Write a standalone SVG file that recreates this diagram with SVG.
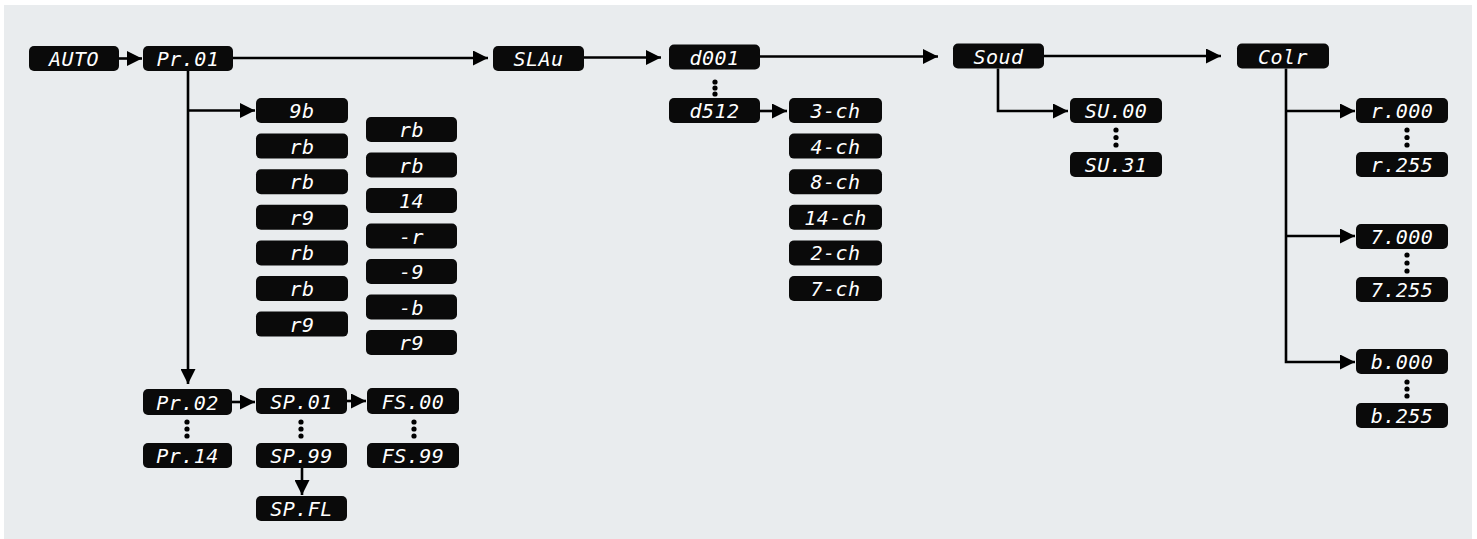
<svg xmlns="http://www.w3.org/2000/svg" width="1477" height="539" viewBox="0 0 1477 539">
<style>
.n rect{fill:#0a0a0a;rx:5px;ry:5px}
.n text{fill:#fff;font-family:"DejaVu Sans Mono","Liberation Mono",monospace;font-size:20px;font-style:oblique;text-anchor:middle;letter-spacing:0.5px}
.c path{fill:none;stroke:#000;stroke-width:2.6}
.c .a{marker-end:url(#ah)}
.d circle{fill:#000}
</style>
<defs>
<marker id="ah" markerUnits="userSpaceOnUse" markerWidth="15" markerHeight="15" refX="15" refY="7.5" orient="auto"><path d="M0,0 L15,7.5 L0,15 z" fill="#000"/></marker>
</defs>
<rect x="0" y="0" width="1477" height="539" fill="#fff"/>
<rect x="4" y="5" width="1468" height="534" fill="#e9ecee"/>

<g class="c" id="connectors">
<path class="a" d="M119,58.5 H142"/>
<path class="a" d="M233,58 H488"/>
<path class="a" d="M584,57.5 H661"/>
<path class="a" d="M760,56.5 H938"/>
<path class="a" d="M1044,56 H1221"/>
<path class="a" d="M188,71 V384"/>
<path class="a" d="M188,110.5 H255"/>
<path class="a" d="M232,402 H255"/>
<path class="a" d="M347,401 H366"/>
<path class="a" d="M302,468 V495"/>
<path class="a" d="M760,111 H787"/>
<path class="a" d="M998,68.5 V111 H1068"/>
<path class="a" d="M1286,68.5 V362 H1355"/>
<path class="a" d="M1286,111 H1355"/>
<path class="a" d="M1286,236 H1355"/>
</g>

<g class="d" id="ellipses">
<circle cx="715" cy="82" r="2.6"/><circle cx="715" cy="88" r="2.6"/><circle cx="715" cy="94" r="2.6"/>
<circle cx="187" cy="422" r="2.6"/><circle cx="187" cy="429" r="2.6"/><circle cx="187" cy="436" r="2.6"/>
<circle cx="301" cy="422" r="2.6"/><circle cx="301" cy="429" r="2.6"/><circle cx="301" cy="436" r="2.6"/>
<circle cx="414" cy="422" r="2.6"/><circle cx="414" cy="429" r="2.6"/><circle cx="414" cy="436" r="2.6"/>
<circle cx="1116" cy="130" r="2.6"/><circle cx="1116" cy="137.5" r="2.6"/><circle cx="1116" cy="145" r="2.6"/>
<circle cx="1407" cy="130" r="2.6"/><circle cx="1407" cy="137.5" r="2.6"/><circle cx="1407" cy="145" r="2.6"/>
<circle cx="1407" cy="255" r="2.6"/><circle cx="1407" cy="263" r="2.6"/><circle cx="1407" cy="271" r="2.6"/>
<circle cx="1407" cy="382" r="2.6"/><circle cx="1407" cy="389" r="2.6"/><circle cx="1407" cy="396" r="2.6"/>
</g>

<g class="n" id="auto"><rect x="29" y="46" width="90" height="25"/><text x="74" y="66">AUTO</text></g>
<g class="n" id="pr01"><rect x="143" y="46" width="90" height="25"/><text x="188" y="66">Pr.01</text></g>
<g class="n" id="slau"><rect x="493" y="46" width="91" height="25"/><text x="538.5" y="66">SLAu</text></g>
<g class="n" id="d001"><rect x="669" y="44.5" width="91" height="25"/><text x="714.5" y="64.5">d001</text></g>
<g class="n" id="soud"><rect x="953" y="43.5" width="91" height="25"/><text x="998.5" y="63.5">Soud</text></g>
<g class="n" id="colr"><rect x="1237" y="43.5" width="92" height="25"/><text x="1283" y="63.5">Colr</text></g>

<g class="n" id="l1"><rect x="256" y="98" width="92" height="25"/><text x="302" y="118">9b</text></g>
<g class="n" id="l2"><rect x="256" y="133.6" width="92" height="25"/><text x="302" y="153.6">rb</text></g>
<g class="n" id="l3"><rect x="256" y="169.2" width="92" height="25"/><text x="302" y="189.2">rb</text></g>
<g class="n" id="l4"><rect x="256" y="204.8" width="92" height="25"/><text x="302" y="224.8">r9</text></g>
<g class="n" id="l5"><rect x="256" y="240.4" width="92" height="25"/><text x="302" y="260.4">rb</text></g>
<g class="n" id="l6"><rect x="256" y="276" width="92" height="25"/><text x="302" y="296">rb</text></g>
<g class="n" id="l7"><rect x="256" y="311.6" width="92" height="25"/><text x="302" y="331.6">r9</text></g>

<g class="n" id="m1"><rect x="366" y="117" width="91" height="25"/><text x="411.5" y="137">rb</text></g>
<g class="n" id="m2"><rect x="366" y="152.5" width="91" height="25"/><text x="411.5" y="172.5">rb</text></g>
<g class="n" id="m3"><rect x="366" y="188" width="91" height="25"/><text x="411.5" y="208">14</text></g>
<g class="n" id="m4"><rect x="366" y="223.5" width="91" height="25"/><text x="411.5" y="243.5">-r</text></g>
<g class="n" id="m5"><rect x="366" y="259" width="91" height="25"/><text x="411.5" y="279">-9</text></g>
<g class="n" id="m6"><rect x="366" y="294.5" width="91" height="25"/><text x="411.5" y="314.5">-b</text></g>
<g class="n" id="m7"><rect x="366" y="330" width="91" height="25"/><text x="411.5" y="350">r9</text></g>

<g class="n" id="pr02"><rect x="143" y="389" width="89" height="26"/><text x="187.5" y="409.5">Pr.02</text></g>
<g class="n" id="pr14"><rect x="143" y="443" width="89" height="25"/><text x="187.5" y="463">Pr.14</text></g>
<g class="n" id="sp01"><rect x="256" y="388" width="91" height="26"/><text x="301.5" y="408.5">SP.01</text></g>
<g class="n" id="sp99"><rect x="256" y="443" width="91" height="25"/><text x="301.5" y="463">SP.99</text></g>
<g class="n" id="spfl"><rect x="256" y="496" width="91" height="25"/><text x="301.5" y="516">SP.FL</text></g>
<g class="n" id="fs00"><rect x="367" y="388" width="92" height="26"/><text x="413" y="408.5">FS.00</text></g>
<g class="n" id="fs99"><rect x="367" y="443" width="92" height="25"/><text x="413" y="463">FS.99</text></g>

<g class="n" id="d512"><rect x="669" y="98" width="91" height="25"/><text x="714.5" y="118">d512</text></g>
<g class="n" id="ch3"><rect x="789" y="98" width="93" height="25"/><text x="835.5" y="118">3-ch</text></g>
<g class="n" id="ch4"><rect x="789" y="133.6" width="93" height="25"/><text x="835.5" y="153.6">4-ch</text></g>
<g class="n" id="ch8"><rect x="789" y="169.2" width="93" height="25"/><text x="835.5" y="189.2">8-ch</text></g>
<g class="n" id="ch14"><rect x="789" y="204.8" width="93" height="25"/><text x="835.5" y="224.8">14-ch</text></g>
<g class="n" id="ch2"><rect x="789" y="240.4" width="93" height="25"/><text x="835.5" y="260.4">2-ch</text></g>
<g class="n" id="ch7"><rect x="789" y="276" width="93" height="25"/><text x="835.5" y="296">7-ch</text></g>

<g class="n" id="su00"><rect x="1070" y="98" width="92" height="25"/><text x="1116" y="118">SU.00</text></g>
<g class="n" id="su31"><rect x="1070" y="152" width="92" height="25"/><text x="1116" y="172">SU.31</text></g>

<g class="n" id="r000"><rect x="1356" y="98" width="92" height="25"/><text x="1402" y="118">r.000</text></g>
<g class="n" id="r255"><rect x="1356" y="152" width="92" height="25"/><text x="1402" y="172">r.255</text></g>
<g class="n" id="g000"><rect x="1356" y="224" width="92" height="25"/><text x="1402" y="244">7.000</text></g>
<g class="n" id="g255"><rect x="1356" y="277" width="92" height="25"/><text x="1402" y="297">7.255</text></g>
<g class="n" id="b000"><rect x="1356" y="349" width="92" height="25"/><text x="1402" y="369">b.000</text></g>
<g class="n" id="b255"><rect x="1356" y="403" width="92" height="25"/><text x="1402" y="423">b.255</text></g>
</svg>
